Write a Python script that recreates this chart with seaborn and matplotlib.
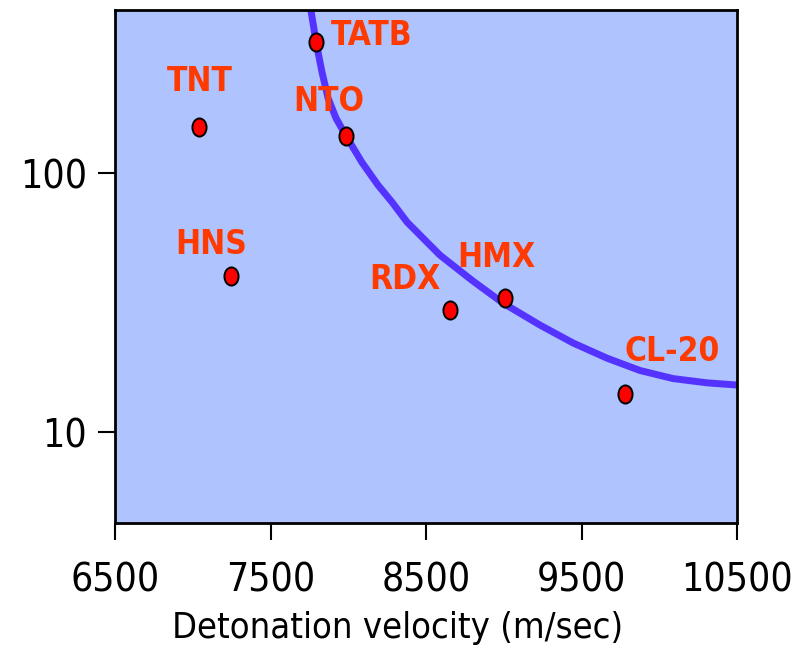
import matplotlib
matplotlib.use("Agg")
import matplotlib.pyplot as plt
import seaborn as sns
import pandas as pd
from matplotlib.path import Path
from matplotlib.transforms import Affine2D

# Explosivos: velocidad de detonación y sensibilidad
nombres = ["TATB", "TNT", "NTO", "HNS", "RDX", "HMX", "CL-20"]
velocidad = [7793, 7040, 7986, 7246, 8654, 9008, 9780]
sensibilidad = [321, 150, 139, 40, 29.6, 32.9, 14.0]

# Curva de tendencia
curva_x = [7760, 7793, 7831, 7870, 7921, 7986, 8088, 8191, 8281, 8378,
           8590, 8802, 8995, 9233, 9445, 9664, 9876, 10088, 10307, 10500]
curva_y = [425.6, 320.6, 245.5, 195, 163, 139, 110, 89.9, 77.3, 64.7,
           48.2, 38.3, 31.5, 25.9, 22.1, 19.3, 17.3, 16.1, 15.5, 15.2]

x_ticks = [6500, 7500, 8500, 9500, 10500]
y_ticks = [10, 100]
y_ticklabels = ["10", "100"]

# desplazamiento de etiquetas en pixeles (dx, dy, alineación)
offsets = {"TATB": (15, 6, "left"), "TNT": (1, 46, "center"),
           "NTO": (-17, 35, "center"), "HNS": (-20, 32, "center"),
           "RDX": (-45, 31, "center"), "HMX": (-9, 41, "center"),
           "CL-20": (47, 43, "center")}

df = pd.DataFrame({"nombre": nombres, "v": velocidad, "s": sensibilidad})
curva = pd.DataFrame({"v": curva_x, "s": curva_y})

sns.set_style("ticks")
plt.rcParams["font.family"] = ["DejaVu Sans"]
plt.rcParams["font.stretch"] = "condensed"

fig = plt.figure(figsize=(7.96, 6.51), dpi=100)
ax = fig.add_axes([115 / 796, 1 - 523 / 651, 622 / 796, 513 / 651])
ax.set_facecolor("#AFC3FF")

sns.lineplot(data=curva, x="v", y="s", ax=ax, color="#5533FF", lw=5,
             solid_capstyle="butt", solid_joinstyle="round", sort=False)

elipse = Affine2D().scale(0.78, 1).transform_path(Path.unit_circle())
sns.scatterplot(data=df, x="v", y="s", ax=ax, marker=elipse, s=170,
                color="#FF0000", edgecolor="black", linewidth=1.4, zorder=5)

for _, r in df.iterrows():
    dx, dy, ha = offsets[r["nombre"]]
    ax.annotate(r["nombre"], (r["v"], r["s"]), xytext=(dx, dy),
                textcoords="offset pixels", ha=ha, va="center",
                color="#FF3A00", fontsize=24, fontweight="semibold")

ax.set_yscale("log")
ax.set_xlim(6500, 10500)
ax.set_ylim(4.46, 426)
ax.set_xticks(x_ticks)
ax.set_xticklabels([str(t) for t in x_ticks])
ax.set_yticks(y_ticks)
ax.set_yticklabels(y_ticklabels)
ax.yaxis.set_minor_locator(matplotlib.ticker.NullLocator())
ax.tick_params(axis="both", direction="out", length=12, width=1.5,
               labelsize=28, colors="black")
ax.tick_params(axis="x", pad=16)
ax.tick_params(axis="y", pad=8)
for sp in ax.spines.values():
    sp.set_linewidth(2)
    sp.set_color("black")

ax.set_xlabel("Detonation velocity (m/sec)", fontsize=26, labelpad=8,
              color="black", x=0.455)
ax.set_ylabel("")

plt.savefig("out.png", dpi=100)
plt.close()
